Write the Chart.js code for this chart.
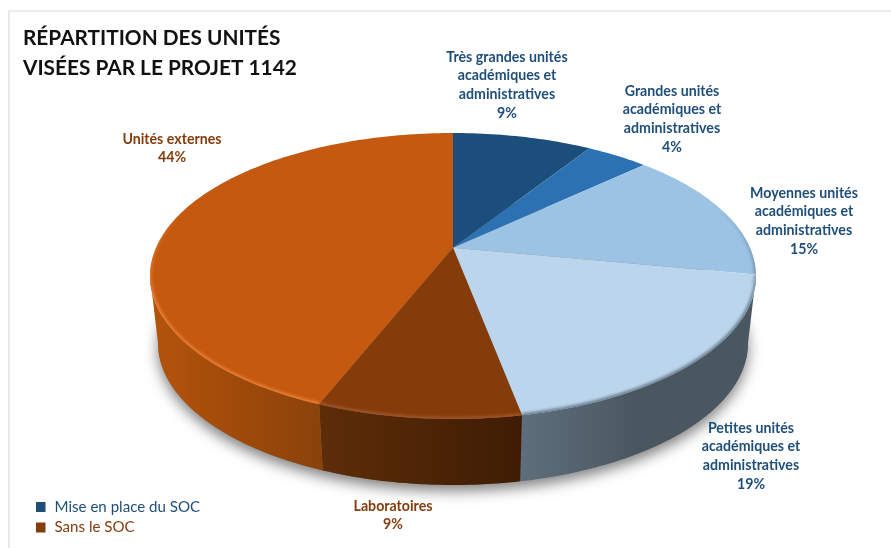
<!DOCTYPE html>
<html lang="fr">
<head>
<meta charset="utf-8">
<title>Répartition des unités</title>
<script src="https://cdn.jsdelivr.net/npm/chart.js@4/dist/chart.umd.js"></script>
<style>
	html, body { margin: 0; padding: 0; background: #fff; overflow: hidden; }
	#frame { position: absolute; left: 8px; top: 10px; right: 0; bottom: 0; border-left: 2px solid #e8e8e8; border-top: 2px solid #ececec; }
	canvas { position: absolute; left: 0; top: 0; }
</style>
</head>
<body>
<div id="frame"></div>
<canvas id="repartition" width="891" height="548"></canvas>
<script>

	/* Data */
	var categories = ['Très grandes unités académiques et administratives', 'Grandes unités académiques et administratives', 'Moyennes unités académiques et administratives', 'Petites unités académiques et administratives', 'Laboratoires', 'Unités externes'];
	var shares = [9, 4, 15, 19, 9, 44];
	var labelLines = [
		['Très grandes unités', 'académiques et', 'administratives'],
		['Grandes unités', 'académiques et', 'administratives'],
		['Moyennes unités', 'académiques et', 'administratives'],
		['Petites unités', 'académiques et', 'administratives'],
		['Laboratoires'],
		['Unités externes']
	];
	var titleLines = ['RÉPARTITION DES UNITÉS', 'VISÉES PAR LE PROJET 1142'];
	var legendNames = ['Mise en place du SOC', 'Sans le SOC'];

	/* Colours */
	var faceColors = ['#1C4E7C', '#2C72B3', '#9CC2E4', '#BBD6EC', '#843C0A', '#C4590F'];
	var rimColors = ['#1C4E7C', '#2C72B3', '#66788A', '#66788A', '#A4562A', '#EE8038'];
	var wallStops = [
		['#1C3A55', '#1C3A55'],
		['#24527C', '#24527C'],
		['#5E6E7C', '#4A5761'],
		['#5E6E7C', '#4A5761', '#4A5660'],
		['#5E2D08', '#4E2506', '#3E1C04'],
		['#B4540C', '#A04A0A', '#8A420A']
	];
	var blue = '#1F4E79';
	var brown = '#843C0C';
	var labelColors = [blue, blue, blue, blue, brown, brown];
	var legendColors = [blue, brown];

	/* Layout */
	var labelCentres = [[507, 57], [672, 91], [804, 193], [751, 428], [393, 506], [172, 139]];
	var labelLeading = 18.7;
	var top3d = { cx: 453, cy: 276, rx: 303, ry: 143 };
	var bottom3d = { cx: 453, cy: 343, rx: 295, ry: 142 };
	var tilt = 0.197;	// how far the pie's centre sits above the middle of the ellipse


	/* ********************************

	    Perspective helpers

	******************************** */

	// Takes a Chart.js arc angle to a point on the tilted top face
	function project(angle) {
		var u = Math.cos(angle), v = Math.sin(angle);
		var d = 1 - tilt * v;
		return {
			x: u * Math.sqrt(1 - tilt * tilt) / d,
			y: (v - tilt) / d
		};
	}

	function toScreen(ring, p) {
		return { x: ring.cx + ring.rx * p.x, y: ring.cy + ring.ry * p.y };
	}

	function edgePoints(start, end) {
		var steps = Math.max(4, Math.ceil((end - start) / 0.02));
		var pts = [];
		for (var i = 0; i <= steps; i++) {
			pts.push(toScreen(top3d, project(start + (end - start) * i / steps)));
		}
		return pts;
	}

	function tracePoints(ctx, pts) {
		for (var i = 0; i < pts.length; i++) {
			ctx.lineTo(pts[i].x, pts[i].y);
		}
	}

	function faceParam(angle) {
		var p = project(angle);
		var a = Math.atan2(p.y, p.x);
		return a < -Math.PI / 2 ? a + 2 * Math.PI : a;
	}


	/* ********************************

	    Pie drawing

	******************************** */

	function drawShadow(ctx) {
		ctx.save();
		ctx.shadowColor = 'rgba(0,0,0,0.5)';
		ctx.shadowBlur = 14;
		ctx.shadowOffsetY = 6;
		ctx.fillStyle = '#777';
		ctx.beginPath();
		ctx.ellipse(bottom3d.cx, bottom3d.cy, bottom3d.rx, bottom3d.ry, 0, 0, Math.PI * 2);
		ctx.fill();
		ctx.restore();
	}

	function drawWall(ctx, arc, i) {
		var from = Math.max(faceParam(arc.startAngle), 0);
		var to = Math.min(faceParam(arc.endAngle), Math.PI);
		if (i === shares.length - 1) { to = Math.PI; }
		if (to <= from) { return; }

		var steps = Math.ceil((to - from) / 0.02);
		var upper = [], lower = [];
		for (var s = 0; s <= steps; s++) {
			var a = from + (to - from) * s / steps;
			var p = { x: Math.cos(a), y: Math.sin(a) };
			upper.push(toScreen(top3d, p));
			lower.unshift(toScreen(bottom3d, p));
		}

		var xs = upper.concat(lower).map(function(p) { return p.x; });
		var grad = ctx.createLinearGradient(Math.min.apply(null, xs), 0, Math.max.apply(null, xs), 0);
		var stops = wallStops[i];
		stops.forEach(function(c, n) {
			grad.addColorStop(n / (stops.length - 1), c);
		});

		ctx.beginPath();
		ctx.moveTo(upper[0].x, upper[0].y);
		tracePoints(ctx, upper);
		tracePoints(ctx, lower);
		ctx.closePath();
		ctx.fillStyle = grad;
		ctx.fill();
	}

	function drawFace(ctx, arc, i) {
		var apex = toScreen(top3d, { x: 0, y: -tilt });
		var pts = edgePoints(arc.startAngle, arc.endAngle);

		ctx.save();
		ctx.beginPath();
		ctx.moveTo(apex.x, apex.y);
		tracePoints(ctx, pts);
		ctx.closePath();
		ctx.fillStyle = faceColors[i];
		ctx.fill();
		ctx.clip();

		// soft bevel along the outer edge, fading out towards the back
		var fade = ctx.createLinearGradient(0, top3d.cy - 70, 0, top3d.cy + 30);
		fade.addColorStop(0, rimColors[i] + '00');
		fade.addColorStop(1, rimColors[i]);
		ctx.filter = 'blur(1.6px)';
		ctx.strokeStyle = fade;
		ctx.lineWidth = 4;
		ctx.beginPath();
		ctx.moveTo(pts[0].x, pts[0].y);
		tracePoints(ctx, pts);
		ctx.stroke();
		ctx.restore();
	}

	function drawLabels(ctx) {
		ctx.save();
		ctx.textAlign = 'center';
		ctx.textBaseline = 'middle';
		ctx.font = 'bold 14.2px Lato';
		labelLines.forEach(function(lines, i) {
			var all = lines.concat(shares[i] + '%');
			ctx.fillStyle = labelColors[i];
			all.forEach(function(line, n) {
				ctx.fillText(line, labelCentres[i][0], labelCentres[i][1] + n * labelLeading);
			});
		});
		ctx.restore();
	}

	function drawLegend(ctx) {
		ctx.save();
		ctx.textAlign = 'left';
		ctx.textBaseline = 'middle';
		ctx.font = '15.1px Lato';
		legendNames.forEach(function(name, i) {
			var y = 507 + i * 20.5;
			ctx.fillStyle = legendColors[i];
			ctx.fillRect(36, y - 5, 9.5, 10);
			ctx.fillText(name, 54.5, y);
		});
		ctx.restore();
	}

	var pie3d = {
		id: 'pie3d',
		beforeDatasetsDraw: function(chart) {
			var ctx = chart.ctx;
			var arcs = chart.getDatasetMeta(0).data;
			drawShadow(ctx);
			arcs.forEach(function(arc, i) { drawWall(ctx, arc, i); });
			arcs.forEach(function(arc, i) { drawFace(ctx, arc, i); });
			drawLabels(ctx);
			drawLegend(ctx);
			return false;
		}
	};


	/* ********************************

	    Chart

	******************************** */

	var chart = new Chart(document.getElementById('repartition'), {
		type: 'pie',
		data: {
			labels: categories,
			datasets: [{
				data: shares,
				backgroundColor: faceColors
			}]
		},
		plugins: [pie3d],
		options: {
			responsive: false,
			animation: false,
			layout: { padding: { left: 23 } },
			plugins: {
				legend: { display: false },
				tooltip: { enabled: false },
				title: {
					display: true,
					text: titleLines,
					align: 'start',
					color: '#111',
					padding: { top: 23, bottom: 0 },
					font: { family: 'Lato', weight: 'bold', size: 20.8, lineHeight: 1.45 }
				}
			}
		}
	});

</script>
</body>
</html>
